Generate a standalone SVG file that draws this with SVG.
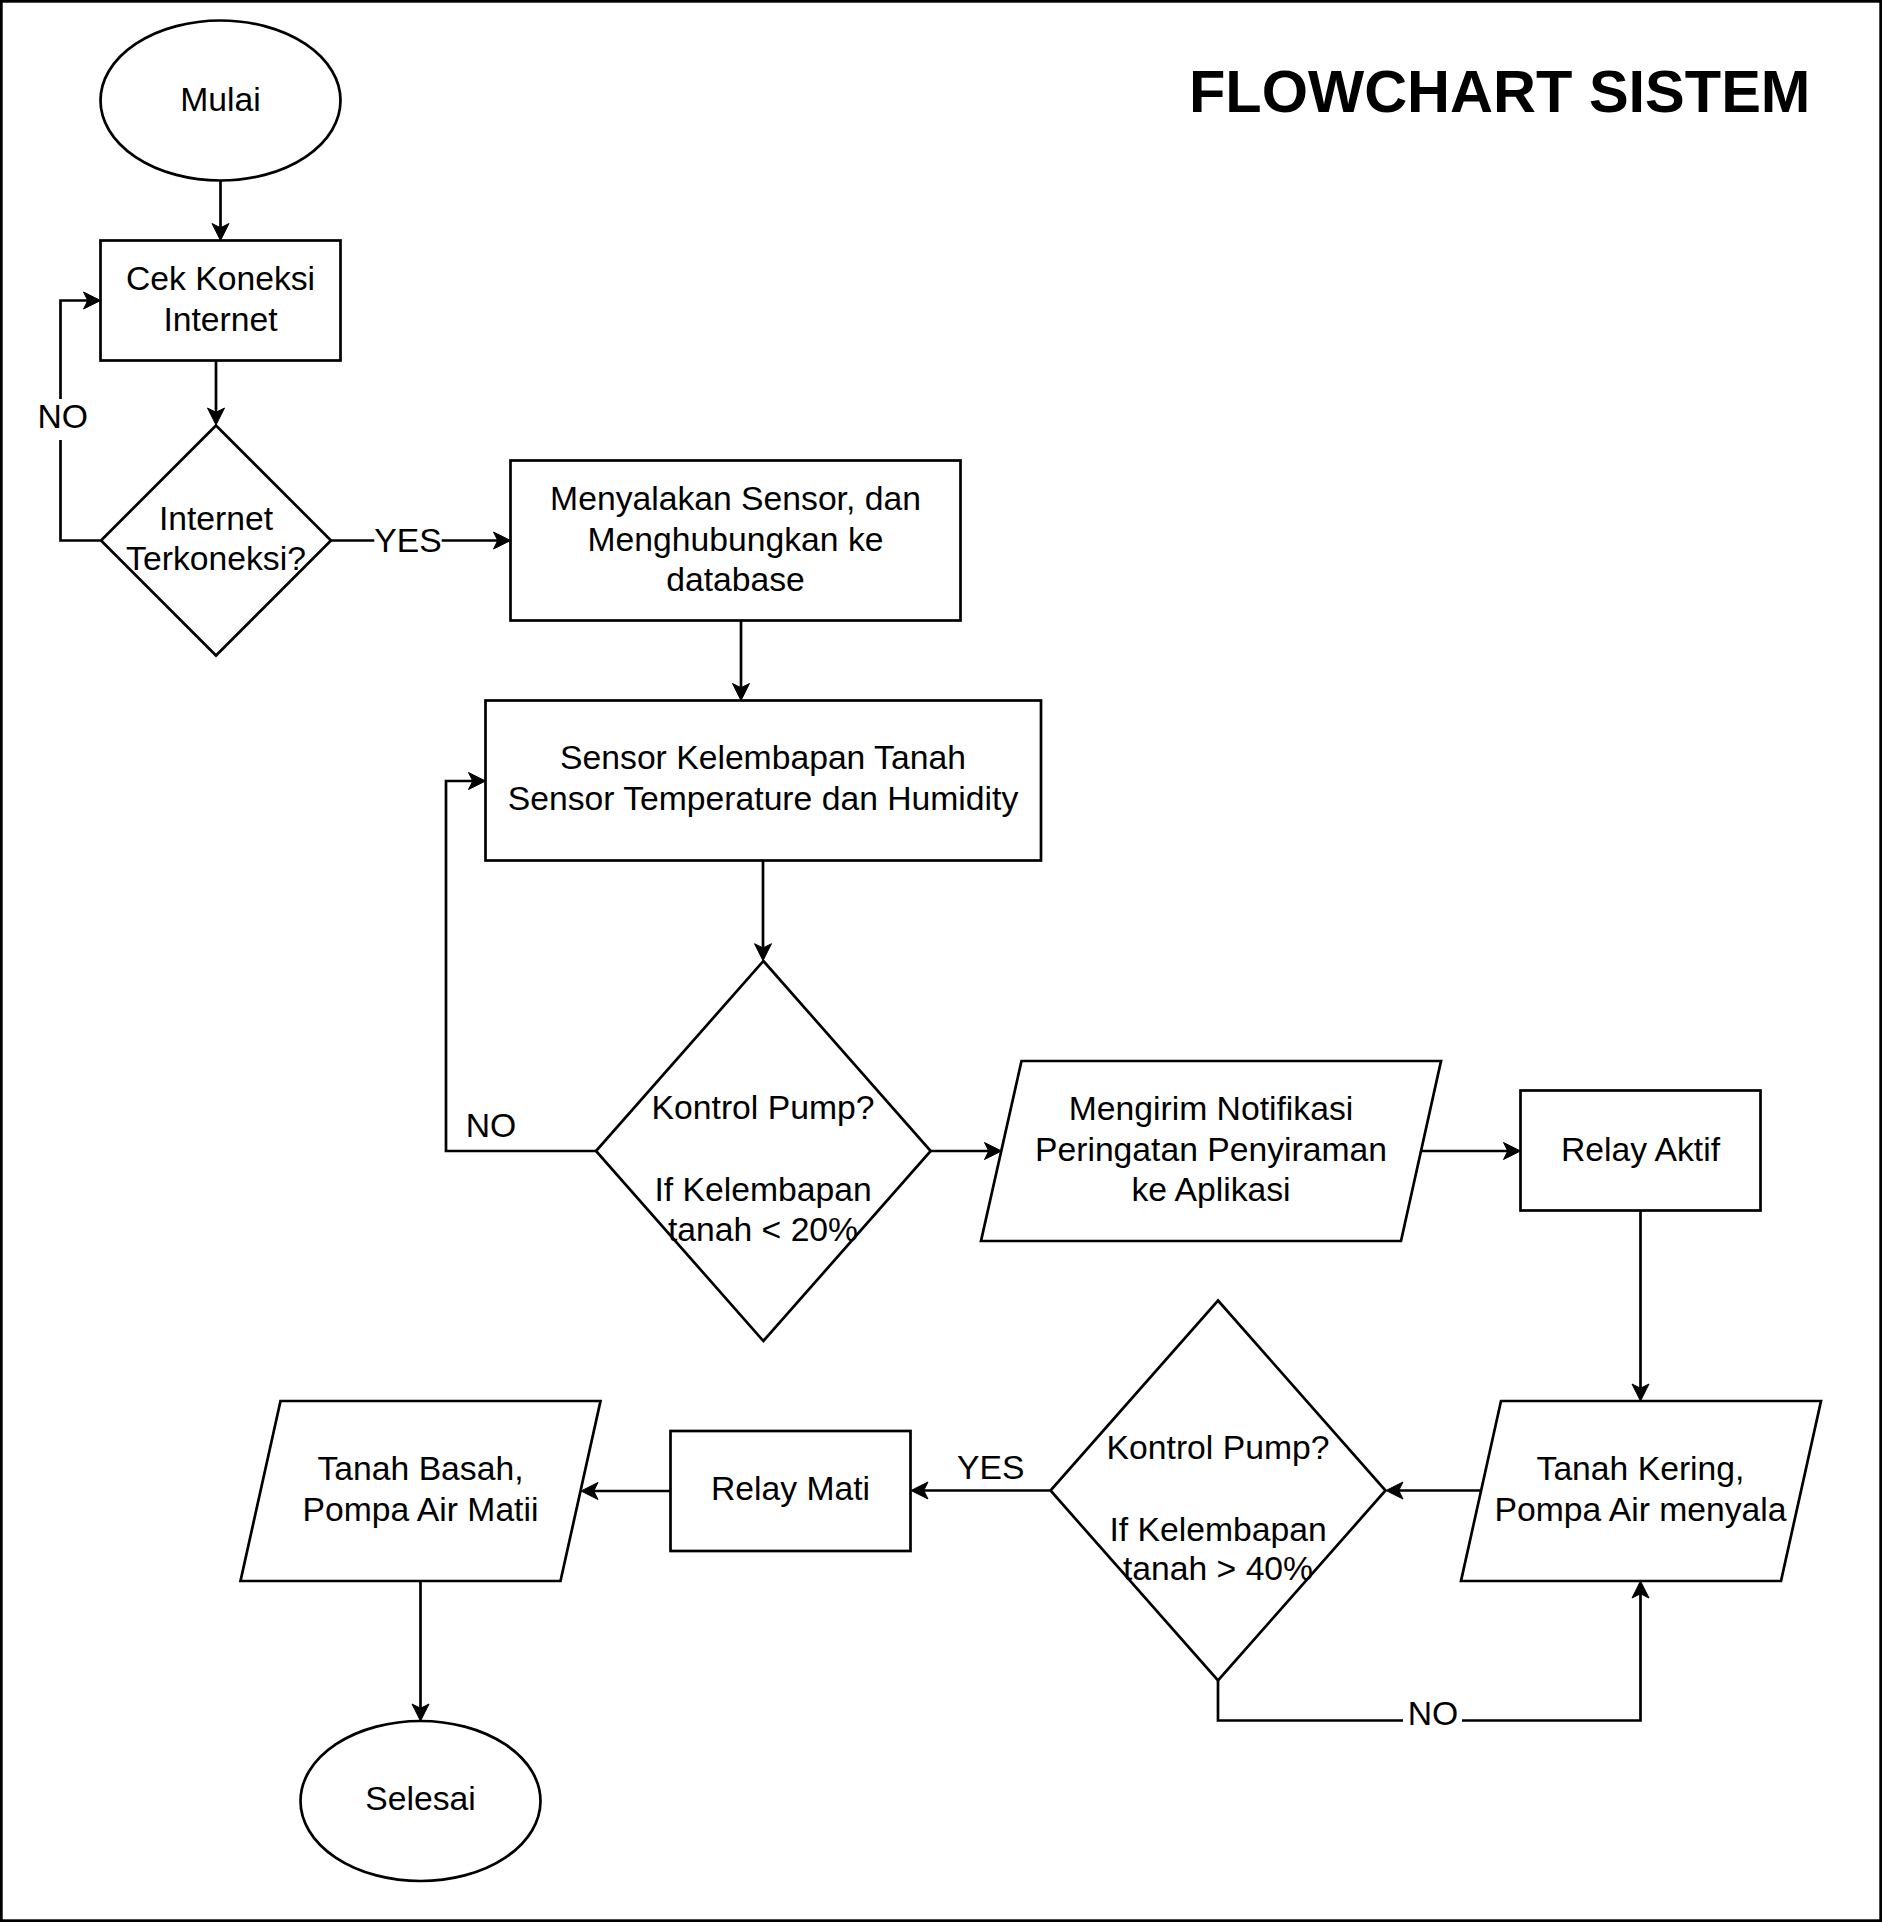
<svg xmlns="http://www.w3.org/2000/svg" width="1882" height="1922" viewBox="0 0 1882 1922">
<style>
.shape{fill:#fff;stroke:#000;stroke-width:2.7}
.edge{fill:none;stroke:#000;stroke-width:2.7}
text{font-family:"Liberation Sans",Arial,Helvetica,sans-serif;font-size:33.7px;fill:#000;text-anchor:middle}
.title{font-weight:bold;font-size:59.5px}
.bg{fill:#fff;stroke:none}
</style>
<defs>
<marker id="arrow" viewBox="-20 -12 34 24" refX="0" refY="0" markerWidth="34" markerHeight="24" markerUnits="userSpaceOnUse" orient="auto">
<path d="M10,0 L-7,-8.5 L-2.75,0 L-7,8.5 Z" fill="#000" stroke="#000" stroke-width="1" stroke-linejoin="miter"/>
</marker>
</defs>
<rect x="0" y="0" width="1882" height="1922" fill="#fff"/>
<rect id="frame" x="1.35" y="1.35" width="1879.3" height="1919.3" fill="none" stroke="#000" stroke-width="2.7"/>

<g id="connectors">
<path class="edge" d="M220.5,180.5 V230.5" marker-end="url(#arrow)"/>
<path class="edge" d="M216,360.5 V415" marker-end="url(#arrow)"/>
<path class="edge" d="M100.7,540.5 H60.5 V300.5 H90.5" marker-end="url(#arrow)"/>
<path class="edge" d="M331,540.5 H500.5" marker-end="url(#arrow)"/>
<path class="edge" d="M741,620.5 V690.5" marker-end="url(#arrow)"/>
<path class="edge" d="M763,860.5 V950.7" marker-end="url(#arrow)"/>
<path class="edge" d="M596,1151 H446 V781 H475.5" marker-end="url(#arrow)"/>
<path class="edge" d="M930.7,1151 H991.5" marker-end="url(#arrow)"/>
<path class="edge" d="M1421,1151 H1510.5" marker-end="url(#arrow)"/>
<path class="edge" d="M1640.5,1210.5 V1391" marker-end="url(#arrow)"/>
<path class="edge" d="M1481,1490.5 H1396" marker-end="url(#arrow)"/>
<path class="edge" d="M1218,1680.5 V1720.5 H1640.5 V1591" marker-end="url(#arrow)"/>
<path class="edge" d="M1050.5,1490.5 H921" marker-end="url(#arrow)"/>
<path class="edge" d="M670.5,1491 H591" marker-end="url(#arrow)"/>
<path class="edge" d="M420.5,1581 V1711" marker-end="url(#arrow)"/>
<g id="edge-labels">
<rect class="bg" x="37.5" y="399" width="50.5" height="41"/>
<text x="62.8" y="428.4">NO</text>
<rect class="bg" x="374.3" y="521" width="67.4" height="40"/>
<text x="408" y="551.5">YES</text>
<text x="491" y="1136.7">NO</text>
<text x="990.7" y="1479.3">YES</text>
<rect class="bg" x="1403" y="1700" width="59" height="40"/>
<text x="1433" y="1725">NO</text>
</g>
</g>

<g id="title"><text class="title" x="1499.7" y="111.7">FLOWCHART SISTEM</text></g>

<g id="mulai">
<ellipse class="shape" cx="220.5" cy="100.5" rx="120" ry="80"/>
<text x="220.5" y="110.6">Mulai</text>
</g>

<g id="cek-koneksi">
<rect class="shape" x="100.5" y="240.5" width="240" height="120"/>
<text x="220.5" y="289.7">Cek Koneksi</text>
<text x="220.5" y="331.2">Internet</text>
</g>

<g id="internet-terkoneksi">
<polygon class="shape" points="216,425.5 331,540.5 216,655.5 101,540.5"/>
<text x="216" y="529.5">Internet</text>
<text x="216" y="570">Terkoneksi?</text>
</g>

<g id="menyalakan-sensor">
<rect class="shape" x="510.5" y="460.5" width="450" height="160"/>
<text x="735.5" y="510">Menyalakan Sensor, dan</text>
<text x="735.5" y="550.5">Menghubungkan ke</text>
<text x="735.5" y="590.7">database</text>
</g>

<g id="sensor">
<rect class="shape" x="485.5" y="700.5" width="555.5" height="160"/>
<text x="763" y="769">Sensor Kelembapan Tanah</text>
<text x="763" y="810">Sensor Temperature dan Humidity</text>
</g>

<g id="kontrol-pump-1">
<polygon class="shape" points="763.4,961 930.7,1151 763.4,1341 596,1151"/>
<text x="763" y="1119.3">Kontrol Pump?</text>
<text x="763" y="1200.5">If Kelembapan</text>
<text x="763" y="1240.5">tanah &lt; 20%</text>
</g>

<g id="mengirim-notifikasi">
<polygon class="shape" points="1021.5,1061 1441,1061 1401,1241 981,1241"/>
<text x="1211" y="1120">Mengirim Notifikasi</text>
<text x="1211" y="1160.5">Peringatan Penyiraman</text>
<text x="1211" y="1200.5">ke Aplikasi</text>
</g>

<g id="relay-aktif">
<rect class="shape" x="1520.5" y="1090.5" width="240" height="120"/>
<text x="1640.5" y="1160.5">Relay Aktif</text>
</g>

<g id="tanah-kering">
<polygon class="shape" points="1501,1401 1821,1401 1781,1581 1461,1581"/>
<text x="1640.5" y="1479.5">Tanah Kering,</text>
<text x="1640.5" y="1520.5">Pompa Air menyala</text>
</g>

<g id="kontrol-pump-2">
<polygon class="shape" points="1218,1300.5 1385.5,1490.5 1218,1680.5 1050.5,1490.5"/>
<text x="1218" y="1459">Kontrol Pump?</text>
<text x="1218" y="1540.5">If Kelembapan</text>
<text x="1218" y="1580">tanah &gt; 40%</text>
</g>

<g id="relay-mati">
<rect class="shape" x="670.5" y="1431" width="240" height="120"/>
<text x="790.5" y="1499.5">Relay Mati</text>
</g>

<g id="tanah-basah">
<polygon class="shape" points="280.5,1401 600.5,1401 560.5,1581 240.5,1581"/>
<text x="420.5" y="1479.5">Tanah Basah,</text>
<text x="420.5" y="1520.5">Pompa Air Matii</text>
</g>

<g id="selesai">
<ellipse class="shape" cx="420.5" cy="1801" rx="120" ry="80"/>
<text x="420.5" y="1810">Selesai</text>
</g>
</svg>
